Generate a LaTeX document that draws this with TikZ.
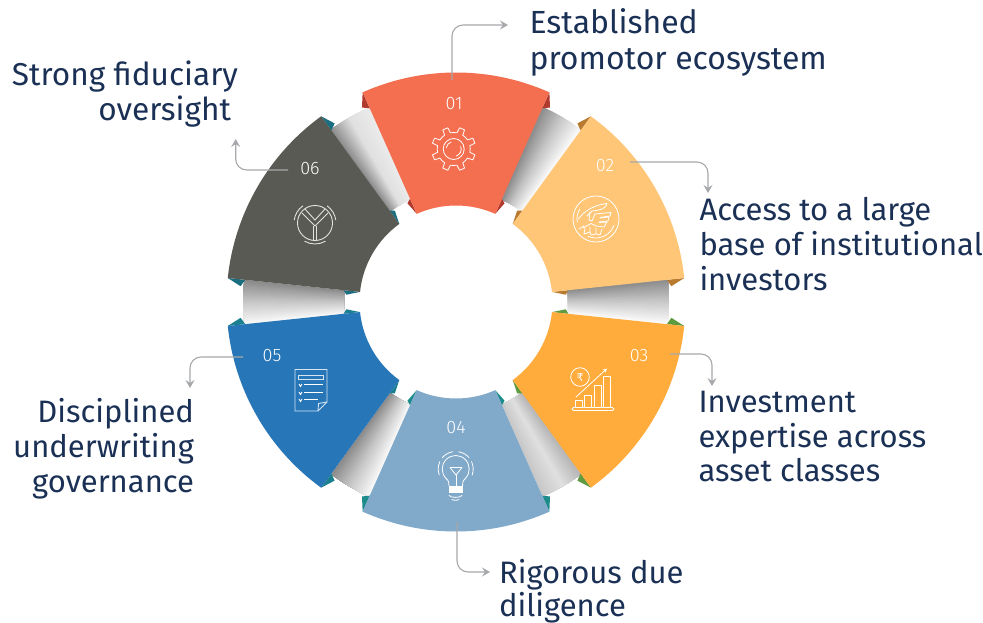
\documentclass[tikz,border=0pt]{standalone}
\usepackage{fontspec}
\setmainfont{Fira Sans}
\newfontfamily\labelfont{Fira Sans}
\newfontfamily\numfont{Fira Sans Light}
\newfontfamily\symfont{DejaVu Sans}
\usetikzlibrary{arrows.meta}
\definecolor{navy}{HTML}{1A3055}
\definecolor{lead}{HTML}{A6A8AB}
\definecolor{sA}{HTML}{F46F50}\definecolor{dA}{HTML}{B03A2E}
\definecolor{sB}{HTML}{FEC676}\definecolor{dB}{HTML}{B87A30}
\definecolor{sC}{HTML}{FFAC3D}\definecolor{dC}{HTML}{5E9A40}
\definecolor{sD}{HTML}{81A9CA}\definecolor{dD}{HTML}{1F8C8C}
\definecolor{sE}{HTML}{2776B8}\definecolor{dE}{HTML}{1A7F8F}
\definecolor{sF}{HTML}{595A53}\definecolor{dF}{HTML}{1A6E7F}
\definecolor{gW}{HTML}{FAFAFA}
\definecolor{gL}{HTML}{EBEBEB}
\definecolor{gM}{HTML}{C8C8C8}
\definecolor{gS}{HTML}{B4B4B4}
\definecolor{gD}{HTML}{8A8A8A}
\definecolor{gT}{HTML}{E0E0E0}
\definecolor{iF}{HTML}{E2E2E0}
\definecolor{iE}{HTML}{D4E4F1}
\newcommand\flap[3]{% edge angle, side sign, colour
  \pgfmathsetmacro\oa{#1+#2*1.8}\pgfmathsetmacro\ia{#1+#2*2.2}
  \fill[#3] (#1:229.5pt) -- (\oa:216pt) -- (#1:212pt) -- cycle;
  \fill[#3] (#1:96.5pt) -- (\ia:110pt) -- (#1:113pt) -- cycle;}
\newcommand\sector[3]{% centre angle, colour, flap colour
  \pgfmathsetmacro\lo{#1-24}\pgfmathsetmacro\hi{#1+24}
  \flap{\lo}{-1}{#3}\flap{\hi}{1}{#3}
  \fill[#2] (\lo:96.5pt) arc[start angle=\lo,end angle=\hi,radius=96.5pt]
    -- (\hi:229.5pt) arc[start angle=\hi,end angle=\lo,radius=229.5pt] -- cycle;}
\newcommand\gapband[4]{% mid angle, low colour, mid colour, high colour
  \foreach \i in {0,...,39}{
    \pgfmathsetmacro\st{#1-6+0.3*\i}
    \pgfmathsetmacro\en{#1+6}
    \ifnum\i<20
      \pgfmathtruncatemacro\pp{100-5*\i}\def\cc{#2!\pp!#3}
    \else
      \pgfmathtruncatemacro\pp{100-5*(\i-20)}\def\cc{#3!\pp!#4}
    \fi
    \fill[\cc] (\st:112pt) arc[start angle=\st,end angle=\en,radius=112pt]
      -- (\en:213pt) arc[start angle=\en,end angle=\st,radius=213pt] -- cycle;
  }}
\tikzset{
  caption/.style={font=\labelfont\fontsize{31}{34.8}\selectfont,text=navy,inner sep=0pt,outer sep=0pt},
  num/.style={font=\numfont\fontsize{18}{20}\selectfont,text=white,inner sep=0pt},
  leader/.style={draw=lead,line width=1.1pt,rounded corners=11pt,-{Stealth[length=8pt,width=9pt,inset=3pt]}},
  icon/.style={draw=white,line width=0.8pt,line join=round,line cap=round},
}
\begin{document}
\begin{tikzpicture}[x=1pt,y=-1pt]
\fill[white] (0,0) rectangle (983,623);
\path[use as bounding box] (0,0) rectangle (983,623);
\begin{scope}[shift={(456,302)}]
  \gapband{60}{gW}{gM}{gD}
  \gapband{0}{gW}{gM}{gD}
  \gapband{-60}{gM}{gT}{gS}
  \gapband{-120}{gD}{gM}{gW}
  \gapband{180}{gD}{gM}{gW}
  \gapband{120}{gL}{gT}{gD}
  \sector{90}{sA}{dA}
  \sector{30}{sB}{dB}
  \sector{-30}{sC}{dC}
  \sector{-90}{sD}{dD}
  \sector{-150}{sE}{dE}
  \sector{150}{sF}{dF}
\end{scope}

% numbers
\node[num] (n1) at (454,103.5) {01};
\node[num] (n2) at (605,165.5) {02};
\node[num] (n3) at (639,355.5) {03};
\node[num] (n4) at (456,427.5) {04};
\node[num] (n5) at (272,355.5) {05};
\node[num] (n6) at (310,168.5) {06};

% captions
\node[caption,font=\labelfont\fontsize{32}{35.5}\selectfont,anchor=north west,align=left] (t1) at (529.5,9) {Established\\promotor ecosystem};
\node[caption,font=\labelfont\fontsize{31.6}{34.8}\selectfont,anchor=north east,align=right] (t6) at (238,61) {Strong fiduciary\\oversight\hspace*{7pt}};
\node[caption,anchor=north west,align=left] (t2) at (699.5,197.5) {Access to a large\\base of institutional\\investors};
\node[caption,anchor=north west,align=left] (t3) at (698.5,391) {Investment\\expertise across\\asset classes};
\node[caption,font=\labelfont\fontsize{31}{32.4}\selectfont,anchor=north west,align=left] (t4) at (499,559.5) {Rigorous due\\diligence};
\node[caption,anchor=north east,align=right] (t5) at (194,398.5) {Disciplined\\underwriting\\governance};

% leaders
\coordinate (a1) at (452,80);  \coordinate (b1) at (508,25);
\coordinate (a2) at (630,162); \coordinate (b2) at (708,193);
\coordinate (a3) at (670,354); \coordinate (b3) at (712,386);
\coordinate (a4) at (457,522); \coordinate (b4) at (490,572);
\coordinate (a5) at (243,357); \coordinate (b5) at (190,388);
\coordinate (a6) at (288,170); \coordinate (b6) at (235.7,139);
\draw[leader] (a1) |- (b1);
\draw[leader] (a2) -| (b2);
\draw[leader] (a3) -| (b3);
\draw[leader] (a4) |- (b4);
\draw[leader] (a5) -| (b5);
\draw[leader] (a6) -| (b6);

% icon 01: gear
\begin{scope}[shift={(453.7,149)}]
  \foreach \k in {0,...,7}{
    \pgfmathsetmacro\g{22.5+45*\k}
    \pgfmathsetmacro\ga{\g-11}\pgfmathsetmacro\gb{\g-7}
    \pgfmathsetmacro\gc{\g+7}\pgfmathsetmacro\gd{\g+11}\pgfmathsetmacro\ge{\g+34}
    \draw[icon] (\ga:16.5pt) -- (\gb:22pt) -- (\gc:22pt) -- (\gd:16.5pt)
      arc[start angle=\gd,end angle=\ge,radius=16.5pt];
  }
  \draw[icon] (0,0) circle[radius=10.5pt];
  \draw[icon] (20:7.5pt) arc[start angle=20,end angle=-70,radius=7.5pt];
  \draw[icon] (110:7.5pt) arc[start angle=110,end angle=170,radius=7.5pt];
\end{scope}

% icon 02: handshake
\begin{scope}[every path/.style={icon}]
  \draw (596,219) circle[radius=23pt];
  \begin{scope}[shift={(596,219)}]
    \draw (-20:19pt) arc[start angle=-20,end angle=-115,radius=19pt];
    \draw (150:19pt) arc[start angle=150,end angle=190,radius=19pt];
  \end{scope}
  \draw (578.5,219) .. controls (584,211) and (594,205) .. (607,203.5) .. controls (606,208) and (602,210) .. (592,211) -- (587,216);
  \draw (590,212) -- (589,220) -- (592,221) -- (595,214);
  \draw (595,214) -- (611,212.5) -- (610,216) -- (600,217.5);
  \draw (600,218) -- (609,217) -- (608,221) -- (599,222);
  \draw (599,222.5) -- (607,222) -- (604,227) -- (596,226);
  \draw (583,228) -- (591,223.5) -- (596,226);
  \draw (585,228) -- (584,234) -- (590,232) -- (590,227);
  \draw (590,232) -- (591,235) -- (596,234) -- (596,228);
  \draw (596,234) -- (600,235) -- (602,229);
  \draw (579,229) -- (584,226);
\end{scope}

% icon 03: chart with coin
\draw[icon] (580,377) circle[radius=9.3pt];
\node[inner sep=0pt,font=\symfont\fontsize{11}{11}\selectfont,text=white] (rup) at (580,377) {₹};
\draw[icon,rounded corners=1.5pt] (572,407.5) rectangle (614,410.5);
\draw[icon] (575.5,407.5) rectangle (582,400);
\draw[icon] (584.5,407.5) rectangle (591.5,395.5);
\draw[icon] (594,407.5) rectangle (601,385.5);
\draw[icon] (603.5,407.5) rectangle (610.5,376.5);
\draw[icon,-{Stealth[length=4pt,width=4pt]}] (576,397) -- (607,368.5);

% icon 04: bulb
\begin{scope}[shift={(455.7,469)}]
  \draw[icon] (-45:13.5pt) arc[start angle=-45,end angle=225,radius=13.5pt];
  \draw[icon] (-20:17.5pt) arc[start angle=-20,end angle=25,radius=17.5pt];
  \draw[icon] (40:17.5pt) arc[start angle=40,end angle=80,radius=17.5pt];
  \draw[icon] (100:17.5pt) arc[start angle=100,end angle=140,radius=17.5pt];
  \draw[icon] (155:17.5pt) arc[start angle=155,end angle=200,radius=17.5pt];
\end{scope}
\draw[icon] (446,478.5) .. controls (449,481) and (449,483) .. (449,486);
\draw[icon] (465.4,478.5) .. controls (462.5,481) and (462.5,483) .. (462.5,486);
\draw[icon] (450,467.5) -- (462,467.5) -- (456,475) -- cycle;
\draw[icon] (456,475) -- (456,486);
\fill[white] (449,486) rectangle (462.5,493);
\draw[icon] (449,495.5) .. controls (451,498) and (460,498) .. (462,495.5);
\draw[icon] (452,499.5) .. controls (453,500.5) and (458,500.5) .. (459,499.5);

% icon 05: document
\draw[iE,line width=0.9pt] (295,369.5) -- (327,369.5) -- (327,402) -- (318,411) -- (295,411) -- cycle;
\draw[iE,line width=0.9pt] (327,402) -- (318.5,403.5) -- (318,411);
\draw[iE,line width=1pt] (298.5,375.5) rectangle (323,379);
\draw[white,line width=1.4pt] (304,384.5) -- (323,384.5);
\draw[white,line width=1.4pt] (304,392.5) -- (323,392.5);
\draw[white,line width=1.4pt] (304,399.5) -- (318,399.5);
\draw[white,line width=0.9pt] (299,384) -- (300.5,386.5) -- (302,384);
\draw[white,line width=0.9pt] (299,392) -- (300.5,394.5) -- (302,392);
\draw[white,line width=0.9pt] (299,399) -- (300.5,401.5) -- (302,399);

% icon 06: circle with Y
\begin{scope}[shift={(315,223)}]
  \draw[iF,line width=0.9pt] (0,0) circle[radius=17.5pt];
  \draw[iF,line width=0.9pt] (172:21pt) arc[start angle=172,end angle=125,radius=21pt];
  \draw[iF,line width=0.9pt] (8:21pt) arc[start angle=8,end angle=55,radius=21pt];
  \draw[iF,line width=0.9pt] (-60:21pt) arc[start angle=-60,end angle=-120,radius=21pt];
  \draw[iF,line width=0.9pt] (-13,-10) -- (0,3) -- (13,-10);
  \draw[iF,line width=0.9pt] (-10,-14) -- (0,-3) -- (10,-14);
  \draw[iF,line width=0.9pt] (-1.5,3) -- (-1.5,17);
  \draw[iF,line width=0.9pt] (1.5,3) -- (1.5,17);
\end{scope}
\end{tikzpicture}
\end{document}
